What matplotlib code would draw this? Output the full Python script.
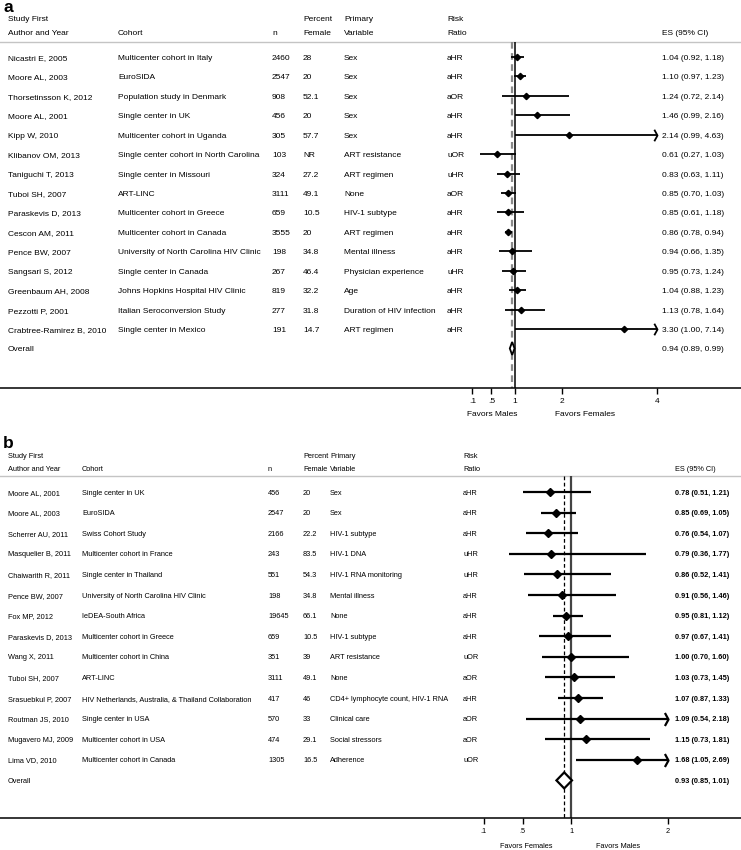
import matplotlib
matplotlib.use("Agg")
import matplotlib.pyplot as plt
import matplotlib.transforms as mtransforms
from matplotlib.path import Path
from matplotlib.patches import Polygon

plt.rcParams['font.family'] = ['Liberation Sans', 'DejaVu Sans']

# ---------------- Panel a data ----------------
authors_a = ["Nicastri E, 2005", "Moore AL, 2003", "Thorsetinsson K, 2012", "Moore AL, 2001",
             "Kipp W, 2010", "Klibanov OM, 2013", "Taniguchi T, 2013", "Tuboi SH, 2007",
             "Paraskevis D, 2013", "Cescon AM, 2011", "Pence BW, 2007", "Sangsari S, 2012",
             "Greenbaum AH, 2008", "Pezzotti P, 2001", "Crabtree-Ramirez B, 2010"]
cohort_a = ["Multicenter cohort in Italy", "EuroSIDA", "Population study in Denmark",
            "Single center in UK", "Multicenter cohort in Uganda",
            "Single center cohort in North Carolina", "Single center in Missouri", "ART-LINC",
            "Multicenter cohort in Greece", "Multicenter cohort in Canada",
            "University of North Carolina HIV Clinic", "Single center in Canada",
            "Johns Hopkins Hospital HIV Clinic", "Italian Seroconversion Study",
            "Single center in Mexico"]
n_a = ["2460", "2547", "908", "456", "305", "103", "324", "3111", "659", "3555", "198",
       "267", "819", "277", "191"]
pct_a = ["28", "20", "52.1", "20", "57.7", "NR", "27.2", "49.1", "10.5", "20", "34.8",
         "46.4", "32.2", "31.8", "14.7"]
var_a = ["Sex", "Sex", "Sex", "Sex", "Sex", "ART resistance", "ART regimen", "None",
         "HIV-1 subtype", "ART regimen", "Mental illness", "Physician experience", "Age",
         "Duration of HIV infection", "ART regimen"]
rr_a = ["aHR", "aHR", "aOR", "aHR", "aHR", "uOR", "uHR", "aOR", "aHR", "aHR", "aHR", "uHR",
        "aHR", "aHR", "aHR"]
es_a = [1.04, 1.10, 1.24, 1.46, 2.14, 0.61, 0.83, 0.85, 0.85, 0.86, 0.94, 0.95, 1.04, 1.13, 3.30]
lo_a = [0.92, 0.97, 0.72, 0.99, 0.99, 0.27, 0.63, 0.70, 0.61, 0.78, 0.66, 0.73, 0.88, 0.78, 1.00]
hi_a = [1.18, 1.23, 2.14, 2.16, 4.63, 1.03, 1.11, 1.03, 1.18, 0.94, 1.35, 1.24, 1.23, 1.64, 7.14]
overall_a = [0.94, 0.89, 0.99]
ticks_a = [0.1, 0.5, 1, 2, 4]
ticklabels_a = [".1", ".5", "1", "2", "4"]
favors_a = ["Favors Males", "Favors Females"]

# ---------------- Panel b data ----------------
authors_b = ["Moore AL, 2001", "Moore AL, 2003", "Scherrer AU, 2011", "Masquelier B, 2011",
             "Chaiwarith R, 2011", "Pence BW, 2007", "Fox MP, 2012", "Paraskevis D, 2013",
             "Wang X, 2011", "Tuboi SH, 2007", "Srasuebkul P, 2007", "Routman JS, 2010",
             "Mugavero MJ, 2009", "Lima VD, 2010"]
cohort_b = ["Single center in UK", "EuroSIDA", "Swiss Cohort Study",
            "Multicenter cohort in France", "Single center in Thailand",
            "University of North Carolina HIV Clinic", "IeDEA-South Africa",
            "Multicenter cohort in Greece", "Multicenter cohort in China", "ART-LINC",
            "HIV Netherlands, Australia, & Thailand Collaboration", "Single center in USA",
            "Multicenter cohort in USA", "Multicenter cohort in Canada"]
n_b = ["456", "2547", "2166", "243", "551", "198", "19645", "659", "351", "3111", "417",
       "570", "474", "1305"]
pct_b = ["20", "20", "22.2", "83.5", "54.3", "34.8", "66.1", "10.5", "39", "49.1", "46",
         "33", "29.1", "16.5"]
var_b = ["Sex", "Sex", "HIV-1 subtype", "HIV-1 DNA", "HIV-1 RNA monitoring", "Mental illness",
         "None", "HIV-1 subtype", "ART resistance", "None", "CD4+ lymphocyte count, HIV-1 RNA",
         "Clinical care", "Social stressors", "Adherence"]
rr_b = ["aHR", "aHR", "aHR", "uHR", "uHR", "aHR", "aHR", "aHR", "uOR", "aOR", "aHR", "aOR",
        "aOR", "uOR"]
es_b = [0.78, 0.85, 0.76, 0.79, 0.86, 0.91, 0.95, 0.97, 1.00, 1.03, 1.07, 1.09, 1.15, 1.68]
lo_b = [0.51, 0.69, 0.54, 0.36, 0.52, 0.56, 0.81, 0.67, 0.70, 0.73, 0.87, 0.54, 0.73, 1.05]
hi_b = [1.21, 1.05, 1.07, 1.77, 1.41, 1.46, 1.12, 1.41, 1.60, 1.45, 1.33, 2.18, 1.81, 2.69]
overall_b = [0.93, 0.85, 1.01]
ticks_b = [0.1, 0.5, 1, 2]
ticklabels_b = [".1", ".5", "1", "2"]
favors_b = ["Favors Females", "Favors Males"]

headers = [("Study First", "Author and Year"), ("", "Cohort"), ("", "n"),
           ("Percent", "Female"), ("Primary", "Variable"), ("Risk", "Ratio"),
           ("", "ES (95% CI)")]

W, H = 741, 850
fig = plt.figure(figsize=(W / 100, H / 100), dpi=100)

chevron = Path([(-0.55, 1.0), (0.0, 0.0), (-0.55, -1.0)],
               [Path.MOVETO, Path.LINETO, Path.LINETO])


def panel(label, top_px, bottom_px, row0_px, step_px, one_px, unit_px,
          cols_px, data, ticks, ticklabels, favors, favors_px, favors_y_px,
          fs, lw, ms, diam_h, es_bold, dash_color, solid_color, solid_lw, dash_lw,
          label_base_px, head_px, gray_px):
    authors, cohorts, ns, pcts, vars_, rrs, es, lo, hi, overall = data
    ax = fig.add_axes([0, 1 - bottom_px / H, 1, (bottom_px - top_px) / H])
    ax.set_xlim(1 - one_px / unit_px, 1 + (W - one_px) / unit_px)
    py = lambda p: (p - row0_px) / step_px
    ax.set_ylim(py(bottom_px), py(top_px))
    for s in ["top", "left", "right"]:
        ax.spines[s].set_visible(False)
    ax.spines["bottom"].set_linewidth(1.1)
    ax.set_yticks([])
    ax.set_xticks(ticks)
    ax.set_xticklabels(ticklabels)
    ax.tick_params(axis="x", length=4, width=1, labelsize=fs, pad=3)

    # baseline offset (data units) so that cap-height centre sits on the row line
    fs_px = fs * 100 / 72
    off = 0.36 * fs_px / step_px

    tr = mtransforms.blended_transform_factory(fig.transFigure, ax.transData)
    ax.text(3 / W, py(label_base_px), label, transform=tr, fontsize=12.5,
            fontweight="bold", va="baseline", ha="left")
    for (h1, h2), cx in zip(headers, cols_px):
        if h1:
            ax.text(cx / W, py(head_px[0]) + off, h1, transform=tr, fontsize=fs, va="baseline")
        ax.text(cx / W, py(head_px[1]) + off, h2, transform=tr, fontsize=fs, va="baseline")
    ax.axhline(py(gray_px), color="#c4c4c4", lw=1.0)

    nrow = len(authors)
    rows = list(range(nrow))
    wt = "bold" if es_bold else "normal"
    for i in rows:
        vals = [authors[i], cohorts[i], ns[i], pcts[i], vars_[i], rrs[i]]
        for v, cx in zip(vals, cols_px[:6]):
            ax.text(cx / W, i + off, v, transform=tr, fontsize=fs, va="baseline")
        ax.text(cols_px[6] / W, i + off, f"{es[i]:.2f} ({lo[i]:.2f}, {hi[i]:.2f})",
                transform=tr, fontsize=fs, va="baseline", fontweight=wt)
    ax.text(cols_px[0] / W, nrow + off, "Overall", transform=tr, fontsize=fs, va="baseline")
    ax.text(cols_px[6] / W, nrow + off,
            f"{overall[0]:.2f} ({overall[1]:.2f}, {overall[2]:.2f})", transform=tr,
            fontsize=fs, va="baseline", fontweight=wt)

    ybot = py(bottom_px)
    ax.vlines(1, py(gray_px), ybot, color=solid_color, lw=solid_lw, zorder=2)
    ax.vlines(overall[0], py(gray_px), ybot, color=dash_color, lw=dash_lw,
              linestyles=(0, (3, 2)), zorder=2)

    xmax = ticks[-1]
    for i in rows:
        h = min(hi[i], xmax)
        ax.plot([lo[i], h], [i, i], color="black", lw=lw, solid_capstyle="butt", zorder=3)
        ax.plot([es[i]], [i], marker="D", color="black", ms=ms, zorder=4)
        if hi[i] > xmax:
            ax.plot([xmax], [i], marker=chevron, ms=ms * 2.6, mfc="none", mec="black",
                    mew=lw, zorder=4)
    dh = diam_h / step_px
    diamond = Polygon([(overall[1], nrow), (overall[0], nrow - dh), (overall[2], nrow),
                       (overall[0], nrow + dh)], closed=True, fill=True, facecolor="white",
                      edgecolor="black", lw=lw, zorder=5)
    ax.add_patch(diamond)

    for txt, fx in zip(favors, favors_px):
        fig.text(fx / W, 1 - favors_y_px / H, txt, fontsize=fs, ha="center",
                 va="center_baseline")
    return ax


panel("a", 0, 388, 57, 19.43, 515, 47.3,
      [8, 118, 272, 303, 344, 447, 662],
      (authors_a, cohort_a, n_a, pct_a, var_a, rr_a, es_a, lo_a, hi_a, overall_a),
      ticks_a, ticklabels_a, favors_a, [492, 585], 414,
      fs=6.05, lw=1.3, ms=3.2, diam_h=6.5, es_bold=False, dash_color="#8a8a8a",
      solid_color="black", solid_lw=1.1, dash_lw=1.6,
      label_base_px=12, head_px=(18, 32), gray_px=42)

panel("b", 420, 818, 492, 20.6, 571, 97.0,
      [8, 82, 268, 303, 330, 463, 675],
      (authors_b, cohort_b, n_b, pct_b, var_b, rr_b, es_b, lo_b, hi_b, overall_b),
      ticks_b, ticklabels_b, favors_b, [526, 618], 845,
      fs=5.35, lw=1.6, ms=3.6, diam_h=8, es_bold=True, dash_color="black",
      solid_color="#444444", solid_lw=1.6, dash_lw=0.9,
      label_base_px=448, head_px=(455, 468), gray_px=476)

fig.savefig("out.png", dpi=100)
